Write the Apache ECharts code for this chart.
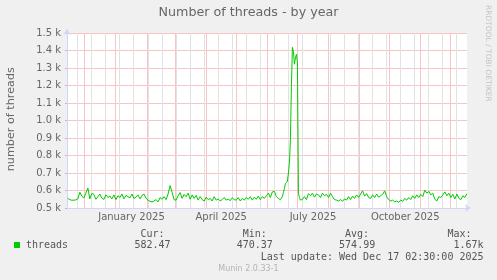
<!DOCTYPE html>
<html><head><meta charset="utf-8">
<script src="https://cdn.jsdelivr.net/npm/echarts@6/dist/echarts.min.js"></script>
<style>html,body{margin:0;padding:0;background:#F0F0F0}#c{width:497px;height:280px}</style>
</head><body><div id="c"></div>
<script>
// ---- data ----
const firstSample = '2024-11-14';            // first sample day
const endTime = '2025-12-17T02:30:00Z';      // last update
// sample day offsets: every 2 days, daily around the June/July spike
const sampleDays = [];
for (let d = 0; d <= 212; d += 2) sampleDays.push(d);
for (let d = 214; d <= 234; d += 1) sampleDays.push(d);
for (let d = 236; d <= 398; d += 2) sampleDays.push(d);

const threads = [
  555,548,544,545,546,552,590,568,557,585,
  614,552,583,578,550,565,580,556,549,575,
  560,568,552,575,548,570,560,580,552,572,
  565,558,580,555,562,575,552,572,580,556,
  545,538,535,540,548,535,560,550,565,548,
  580,628,590,548,545,570,588,555,578,565,
  585,550,575,555,572,545,565,548,540,562,
  548,555,540,565,545,552,540,548,560,545,
  550,542,558,548,545,560,540,555,545,560,
  550,565,545,562,550,568,548,565,555,570,
  585,560,592,595,565,555,547,
  // daily, spike
  565,588,610,640,645,652,700,755,890,1200,1418,1395,1322,1358,1378,1332,585,560,545,540,550,
  // every 2 days again
  565,548,582,570,585,562,580,575,560,585,
  570,578,560,585,565,548,545,540,548,538,
  552,545,565,548,568,555,575,560,580,598,
  568,582,560,555,575,560,580,562,570,578,
  598,565,548,540,545,535,540,532,545,538,
  555,545,560,548,570,555,575,560,578,565,
  602,585,595,575,585,550,540,565,560,575,
  592,570,585,560,578,552,580,555,548,570,
  560,582
];

const monthStarts = ['2024-12-01','2025-01-01','2025-02-01','2025-03-01','2025-04-01','2025-05-01',
  '2025-06-01','2025-07-01','2025-08-01','2025-09-01','2025-10-01','2025-11-01','2025-12-01'];
const firstMinorLine = '2024-11-24';   // minor grid every 14 days
const tickLabels = ['January 2025','April 2025','July 2025','October 2025'];
const tickDates = ['2025-01-16T12:00:00Z','2025-04-16T00:00:00Z','2025-07-16T12:00:00Z','2025-10-16T12:00:00Z'];
const legendStats = {cur:'582.47', min:'470.37', avg:'574.99', max:'1.67k'};

// ---- build ----
const DAY = 86400000;
const t0 = Date.parse(firstSample + 'T00:00:00Z');
const tMax = Date.parse(endTime);
const tMin = tMax - 398.9 * DAY;
const seriesData = sampleDays.map((d, i) => [t0 + d * DAY, threads[i]]);

const red = '#F8C4C4';
const grey = '#E2E2E2';
const vLines = [];
for (let t = Date.parse(firstMinorLine + 'T00:00:00Z'); t < tMax; t += 14 * DAY) vLines.push([t, 500, 0]);
monthStarts.forEach(m => vLines.push([Date.parse(m + 'T00:00:00Z'), 500, 1]));

const tickVals = tickDates.map(s => Date.parse(s));
const axisCol = '#CFD6F8';
const txt = '#666666';
const mono = '10px "DejaVu Sans Mono"';

const chart = echarts.init(document.getElementById('c'), null, {renderer: 'canvas'});
chart.setOption({
  animation: false,
  backgroundColor: '#F0F0F0',
  grid: {left: 67, right: 30, top: 33, bottom: 72, show: true, backgroundColor: '#FFFFFF', borderWidth: 0},
  xAxis: {
    type: 'value', min: tMin, max: tMax, scale: true,
    axisLine: {show: true, lineStyle: {color: axisCol, width: 1}, symbol: ['none', 'arrow'], symbolSize: [6, 6], symbolOffset: [0, 4]},
    axisTick: {show: false},
    splitLine: {show: false},
    axisLabel: {
      customValues: tickVals,
      formatter: v => { const i = tickVals.indexOf(v); return i >= 0 ? tickLabels[i] : ''; },
      color: txt, fontSize: 10, fontFamily: 'DejaVu Sans', margin: 4
    }
  },
  yAxis: {
    type: 'value', min: 500, max: 1500, interval: 100,
    axisLine: {show: true, lineStyle: {color: axisCol, width: 1}, symbol: ['none', 'arrow'], symbolSize: [6, 6], symbolOffset: [0, 4]},
    axisTick: {show: true, length: 2, lineStyle: {color: '#BBBBBB'}},
    splitLine: {show: true, lineStyle: {color: red, type: 'solid', width: 1}},
    axisLabel: {formatter: v => (v / 1000).toFixed(1) + ' k', color: txt, fontSize: 10, fontFamily: 'DejaVu Sans', margin: 6}
  },
  series: [
    {type: 'custom', data: vLines, z: 1, silent: true, clip: true,
     encode: {x: 0, y: 1},
     renderItem: (params, api) => {
       const t = api.value(0), major = api.value(2);
       const p1 = api.coord([t, 1500]), p2 = api.coord([t, 500]);
       const x = Math.round(p1[0] - 0.5) + 0.5;
       return {type: 'line', silent: true,
         shape: {x1: x, y1: p1[1], x2: x, y2: p2[1] + 2},
         style: {stroke: major ? red : grey, lineWidth: 1}};
     }},
    {type: 'line', data: seriesData, z: 3, showSymbol: false, symbol: 'none', smooth: false,
     lineStyle: {color: '#00CC00', width: 1}, itemStyle: {color: '#00CC00'}}
  ],
  graphic: [
    {type: 'text', x: 248.5, y: 12.7, style: {text: 'Number of threads - by year', fill: txt, font: '12.7px "DejaVu Sans"', align: 'center', verticalAlign: 'middle'}},
    {type: 'text', x: 11.2, y: 119.2, rotation: Math.PI / 2, style: {text: 'number of threads', fill: txt, font: '11.2px "DejaVu Sans"', align: 'center', verticalAlign: 'middle'}},
    {type: 'text', x: 487.8, y: 5, rotation: -Math.PI / 2, style: {text: 'RRDTOOL / TOBI OETIKER', fill: '#C4C4C4', font: '7.5px "DejaVu Sans"', align: 'left', verticalAlign: 'middle'}},
    {type: 'rect', shape: {x: 14, y: 242, width: 6, height: 6}, style: {fill: '#00CC00'}},
    {type: 'text', x: 26, y: 245.7, style: {text: 'threads', fill: '#555', font: mono, align: 'left', verticalAlign: 'middle'}},
    {type: 'text', x: 164.5, y: 234, style: {text: 'Cur:', fill: '#555', font: mono, align: 'right', verticalAlign: 'middle'}},
    {type: 'text', x: 170.5, y: 245.7, style: {text: legendStats.cur, fill: '#555', font: mono, align: 'right', verticalAlign: 'middle'}},
    {type: 'text', x: 266.8, y: 234, style: {text: 'Min:', fill: '#555', font: mono, align: 'right', verticalAlign: 'middle'}},
    {type: 'text', x: 272.8, y: 245.7, style: {text: legendStats.min, fill: '#555', font: mono, align: 'right', verticalAlign: 'middle'}},
    {type: 'text', x: 369.1, y: 234, style: {text: 'Avg:', fill: '#555', font: mono, align: 'right', verticalAlign: 'middle'}},
    {type: 'text', x: 375.2, y: 245.7, style: {text: legendStats.avg, fill: '#555', font: mono, align: 'right', verticalAlign: 'middle'}},
    {type: 'text', x: 471.5, y: 234, style: {text: 'Max:', fill: '#555', font: mono, align: 'right', verticalAlign: 'middle'}},
    {type: 'text', x: 483.5, y: 245.7, style: {text: legendStats.max, fill: '#555', font: mono, align: 'right', verticalAlign: 'middle'}},
    {type: 'text', x: 483.5, y: 257.3, style: {text: 'Last update: Wed Dec 17 02:30:00 2025', fill: '#555', font: mono, align: 'right', verticalAlign: 'middle'}},
    {type: 'text', x: 248.5, y: 269.3, style: {text: 'Munin 2.0.33-1', fill: '#B4B4B4', font: '8px "DejaVu Sans"', align: 'center', verticalAlign: 'middle'}}
  ]
});
</script>
</body></html>
